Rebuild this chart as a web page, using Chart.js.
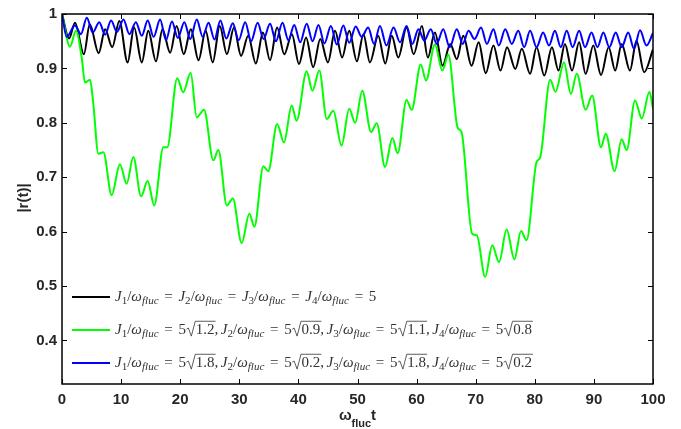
<!DOCTYPE html>
<html>
<head>
<meta charset="utf-8">
<script src="https://cdn.jsdelivr.net/npm/chart.js@4.4.1/dist/chart.umd.min.js"></script>
<style>
html, body { margin: 0; padding: 0; background: #fff; }
</style>
</head>
<body>
<canvas id="orderChart" width="681" height="429"></canvas>
<script>
// |r(t)| vs ω_fluc t — 세 가지 결합 세기

// 검은 선: 모든 J 동일 (극값 위치로 읽음)
const blackX = [0, 1.2, 2.2, 3.7, 4.7, 6.2, 7.3, 8.5, 9.7, 11.1, 12.2, 13.5, 14.6, 15.9, 17.0, 18.3, 19.4, 20.6, 21.8, 23.1, 24.3, 25.5, 26.7, 27.9, 29.1, 30.3, 31.5, 32.8, 34.0, 35.2, 36.4, 37.6, 38.9, 40.1, 41.3, 42.5, 43.7, 45.0, 46.2, 47.4, 48.6, 49.9, 51.0, 52.1, 53.5, 54.7, 55.8, 56.9, 58.3, 59.5, 60.9, 61.9, 63.1, 64.4, 65.7, 66.8, 67.9, 69.3, 70.5, 71.7, 73.0, 74.2, 75.3, 76.7, 77.8, 79.2, 80.3, 81.6, 82.9, 84.0, 85.1, 86.3, 87.5, 88.6, 89.9, 91.2, 92.5, 93.6, 94.7, 96.1, 97.2, 98.5, 100];
const blackY = [1.0, 0.955, 0.984, 0.926, 0.981, 0.928, 0.972, 0.939, 0.987, 0.911, 0.975, 0.911, 0.969, 0.913, 0.972, 0.929, 0.978, 0.926, 0.972, 0.915, 0.969, 0.911, 0.978, 0.926, 0.975, 0.923, 0.960, 0.909, 0.966, 0.915, 0.975, 0.926, 0.963, 0.908, 0.957, 0.902, 0.954, 0.911, 0.969, 0.920, 0.969, 0.913, 0.963, 0.911, 0.960, 0.909, 0.960, 0.920, 0.975, 0.926, 0.978, 0.920, 0.966, 0.905, 0.945, 0.917, 0.960, 0.905, 0.948, 0.891, 0.942, 0.896, 0.939, 0.899, 0.936, 0.890, 0.939, 0.887, 0.939, 0.896, 0.945, 0.896, 0.948, 0.890, 0.942, 0.888, 0.939, 0.896, 0.945, 0.896, 0.951, 0.893, 0.935];

// 초록 선
const greenX = [0, 1.35, 2.37, 3.33, 3.89, 4.74, 5.3, 6.15, 7.0, 8.4, 9.8, 10.94, 12.07, 13.37, 14.5, 15.6, 17.15, 17.8, 19.5, 20.5, 21.77, 22.8, 24.03, 25.6, 26.45, 27.9, 28.9, 30.4, 31.7, 32.55, 34.07, 34.9, 36.4, 37.57, 38.86, 39.7, 41.4, 42.36, 43.54, 44.8, 45.9, 47.3, 48.6, 49.6, 50.8, 52.3, 53.25, 54.66, 55.9, 56.8, 58.3, 59.17, 60.7, 61.6, 63.1, 64.36, 65.37, 66.95, 67.6, 69.4, 70.2, 71.6, 72.8, 73.95, 75.24, 76.54, 77.67, 78.6, 80.3, 80.9, 82.6, 83.5, 84.94, 86.1, 87.1, 88.6, 89.7, 91.2, 92.0, 93.5, 94.7, 95.55, 96.96, 98.1, 99.4, 100];
const greenY = [1.0, 0.94, 0.969, 0.92, 0.874, 0.879, 0.835, 0.743, 0.746, 0.667, 0.724, 0.688, 0.737, 0.665, 0.693, 0.648, 0.755, 0.755, 0.882, 0.856, 0.892, 0.810, 0.824, 0.731, 0.750, 0.648, 0.661, 0.579, 0.633, 0.609, 0.720, 0.711, 0.798, 0.764, 0.832, 0.804, 0.895, 0.859, 0.896, 0.807, 0.822, 0.758, 0.826, 0.800, 0.859, 0.783, 0.799, 0.719, 0.772, 0.744, 0.842, 0.824, 0.907, 0.878, 0.944, 0.896, 0.925, 0.791, 0.783, 0.596, 0.593, 0.517, 0.575, 0.544, 0.604, 0.549, 0.601, 0.584, 0.728, 0.736, 0.879, 0.857, 0.911, 0.853, 0.890, 0.824, 0.850, 0.755, 0.780, 0.711, 0.770, 0.750, 0.841, 0.808, 0.857, 0.826];

// 파란 선
const blueX = [0, 0.8, 2.2, 3.2, 4.2, 5.2, 6.3, 7.3, 8.3, 9.3, 10.4, 11.4, 12.5, 13.5, 14.5, 15.5, 16.6, 17.6, 18.6, 19.6, 20.7, 21.7, 22.8, 23.8, 24.8, 25.8, 26.8, 27.8, 28.9, 29.9, 31.0, 32.0, 33.1, 34.1, 35.2, 36.2, 37.3, 38.3, 39.3, 40.3, 41.4, 42.4, 43.4, 44.4, 45.5, 46.5, 47.6, 48.6, 49.7, 50.7, 51.8, 52.8, 53.8, 54.9, 56.1, 57.2, 58.3, 59.3, 60.3, 61.3, 62.4, 63.4, 64.5, 65.6, 66.8, 67.8, 68.8, 69.8, 70.9, 71.9, 73.0, 73.9, 75.0, 76.1, 77.2, 78.2, 79.2, 80.3, 81.4, 82.4, 83.4, 84.4, 85.4, 86.4, 87.5, 88.5, 89.6, 90.6, 91.6, 92.6, 93.7, 94.7, 95.8, 96.8, 97.8, 98.9, 100];
const blueY = [1.0, 0.958, 0.979, 0.963, 0.993, 0.966, 0.985, 0.962, 0.988, 0.967, 0.990, 0.963, 0.985, 0.960, 0.988, 0.958, 0.990, 0.952, 0.986, 0.956, 0.985, 0.954, 0.990, 0.958, 0.984, 0.953, 0.988, 0.955, 0.983, 0.952, 0.985, 0.950, 0.984, 0.954, 0.982, 0.950, 0.984, 0.952, 0.980, 0.948, 0.982, 0.950, 0.980, 0.946, 0.978, 0.944, 0.979, 0.947, 0.977, 0.958, 0.975, 0.945, 0.978, 0.942, 0.975, 0.948, 0.978, 0.945, 0.972, 0.951, 0.972, 0.945, 0.972, 0.939, 0.972, 0.945, 0.969, 0.954, 0.975, 0.945, 0.972, 0.942, 0.972, 0.945, 0.969, 0.939, 0.969, 0.939, 0.966, 0.942, 0.969, 0.939, 0.969, 0.939, 0.969, 0.939, 0.966, 0.939, 0.966, 0.939, 0.966, 0.939, 0.966, 0.936, 0.970, 0.942, 0.965];

const xTicks = [0, 10, 20, 30, 40, 50, 60, 70, 80, 90, 100];
const yTicks = [0.4, 0.5, 0.6, 0.7, 0.8, 0.9, 1];

const legendLabels = [
    'J_{1}/ω_{fluc} = J_{2}/ω_{fluc} = J_{3}/ω_{fluc} = J_{4}/ω_{fluc} = 5',
    'J_{1}/ω_{fluc} = 5√{1.2}, J_{2}/ω_{fluc} = 5√{0.9}, J_{3}/ω_{fluc} = 5√{1.1}, J_{4}/ω_{fluc} = 5√{0.8}',
    'J_{1}/ω_{fluc} = 5√{1.8}, J_{2}/ω_{fluc} = 5√{0.2}, J_{3}/ω_{fluc} = 5√{1.8}, J_{4}/ω_{fluc} = 5√{0.2}'
];

const toPoints = (xs, ys) => xs.map((x, i) => ({ x: x, y: ys[i] }));

// 간단한 TeX 흉내: _{..} 아래첨자, √{..} 루트
function drawMath(ctx, s, x, y, size) {
    const put = (ch, sz, dy) => {
        const ital = /[A-Za-zω]/.test(ch);
        ctx.font = (ital ? 'italic ' : '') + sz + 'px "Liberation Serif"';
        ctx.fillText(ch, x, y + dy);
        x += ctx.measureText(ch).width;
    };
    for (let i = 0; i < s.length; i++) {
        const c = s[i];
        if (c === '_' && s[i + 1] === '{') {
            const j = s.indexOf('}', i);
            for (const ch of s.slice(i + 2, j)) put(ch, size * 0.74, size * 0.22);
            i = j;
        } else if (c === '√' && s[i + 1] === '{') {
            const j = s.indexOf('}', i);
            const top = y - size * 0.85;
            ctx.beginPath();
            ctx.moveTo(x + 0.5, y - size * 0.32);
            ctx.lineTo(x + size * 0.16, y - size * 0.4);
            ctx.lineTo(x + size * 0.36, y + size * 0.14);
            ctx.lineTo(x + size * 0.62, top);
            x += size * 0.66;
            for (const ch of s.slice(i + 2, j)) put(ch, size, 0);
            ctx.lineTo(x + 1, top);
            ctx.stroke();
            i = j;
        } else if (c === ' ') {
            // '=' 주변은 넓게, 쉼표 뒤는 좁게
            x += (s[i - 1] === '=' || s[i + 1] === '=') ? size * 0.38 : size * 0.16;
        } else {
            put(c, size, 0);
        }
    }
    return x;
}

const framePlugin = {
    id: 'frame',
    afterDatasetsDraw(chart) {
        const { ctx, chartArea: a, scales } = chart;
        ctx.save();
        ctx.strokeStyle = '#000';
        ctx.lineWidth = 1.5;
        ctx.strokeRect(a.left, a.top, a.right - a.left, a.bottom - a.top);
        ctx.lineWidth = 1;
        ctx.beginPath();
        xTicks.forEach(v => {
            const px = Math.round(scales.x.getPixelForValue(v)) + 0.5;
            ctx.moveTo(px, a.bottom); ctx.lineTo(px, a.bottom - 5);
            ctx.moveTo(px, a.top); ctx.lineTo(px, a.top + 5);
        });
        yTicks.forEach(v => {
            const py = Math.round(scales.y.getPixelForValue(v)) + 0.5;
            ctx.moveTo(a.left, py); ctx.lineTo(a.left + 5, py);
            ctx.moveTo(a.right, py); ctx.lineTo(a.right - 5, py);
        });
        ctx.stroke();

        // 범례
        const rows = [297, 330, 363];
        const sets = chart.data.datasets;
        legendLabels.forEach((lab, i) => {
            ctx.strokeStyle = sets[i].borderColor;
            ctx.lineWidth = 2;
            ctx.beginPath();
            ctx.moveTo(72, rows[i]); ctx.lineTo(110, rows[i]);
            ctx.stroke();
            ctx.fillStyle = '#333';
            ctx.strokeStyle = '#333';
            ctx.lineWidth = 0.8;
            ctx.textBaseline = 'alphabetic';
            drawMath(ctx, lab, 115, rows[i] + 4, 15);
        });

        // 축 제목
        ctx.fillStyle = '#262626';
        ctx.textBaseline = 'alphabetic';
        ctx.font = 'bold 15px "Liberation Sans"';
        ctx.save();
        ctx.translate(28, 198);
        ctx.rotate(-Math.PI / 2);
        ctx.textAlign = 'center';
        ctx.fillText('|r(t)|', 0, 0);
        ctx.restore();

        const w1 = ctx.measureText('ω').width;
        ctx.font = 'bold 11px "Liberation Sans"';
        const w2 = ctx.measureText('fluc').width;
        ctx.font = 'bold 15px "Liberation Sans"';
        const w3 = ctx.measureText('t').width;
        let tx = (a.left + a.right) / 2 - (w1 + w2 + w3) / 2;
        ctx.textAlign = 'left';
        ctx.fillText('ω', tx, 420);
        tx += w1;
        ctx.font = 'bold 11px "Liberation Sans"';
        ctx.fillText('fluc', tx, 427);
        tx += w2;
        ctx.font = 'bold 15px "Liberation Sans"';
        ctx.fillText('t', tx, 420);
        ctx.restore();
    }
};

const baseLine = { pointRadius: 0, borderWidth: 2, fill: false, cubicInterpolationMode: 'monotone' };

new Chart(document.getElementById('orderChart'), {
    type: 'line',
    data: {
        datasets: [
            { ...baseLine, label: 'black', data: toPoints(blackX, blackY), borderColor: '#000000', order: 3 },
            { ...baseLine, label: 'green', data: toPoints(greenX, greenY), borderColor: '#00ff00', order: 2 },
            { ...baseLine, label: 'blue', data: toPoints(blueX, blueY), borderColor: '#0000ff', order: 1 }
        ]
    },
    options: {
        responsive: false,
        animation: false,
        devicePixelRatio: 1,
        layout: { padding: { top: 13, right: 28, left: 0, bottom: 0 } },
        plugins: { legend: { display: false }, tooltip: { enabled: false } },
        scales: {
            x: {
                type: 'linear', min: 0, max: 100,
                grid: { display: false, drawTicks: false },
                border: { display: false },
                afterFit: s => { s.height = 45; },
                afterBuildTicks: s => { s.ticks = xTicks.map(v => ({ value: v })); },
                ticks: { padding: 7, color: '#262626', font: { family: 'Liberation Sans', size: 15, weight: 'bold' }, maxRotation: 0 }
            },
            y: {
                type: 'linear', min: 0.32, max: 1,
                grid: { display: false, drawTicks: false },
                border: { display: false },
                afterFit: s => { s.width = 62; },
                afterBuildTicks: s => { s.ticks = yTicks.map(v => ({ value: v })); },
                ticks: {
                    padding: 5, color: '#262626',
                    font: { family: 'Liberation Sans', size: 15, weight: 'bold' },
                    callback: v => String(Number(v.toFixed(1)))
                }
            }
        }
    },
    plugins: [framePlugin]
});
</script>
</body>
</html>
